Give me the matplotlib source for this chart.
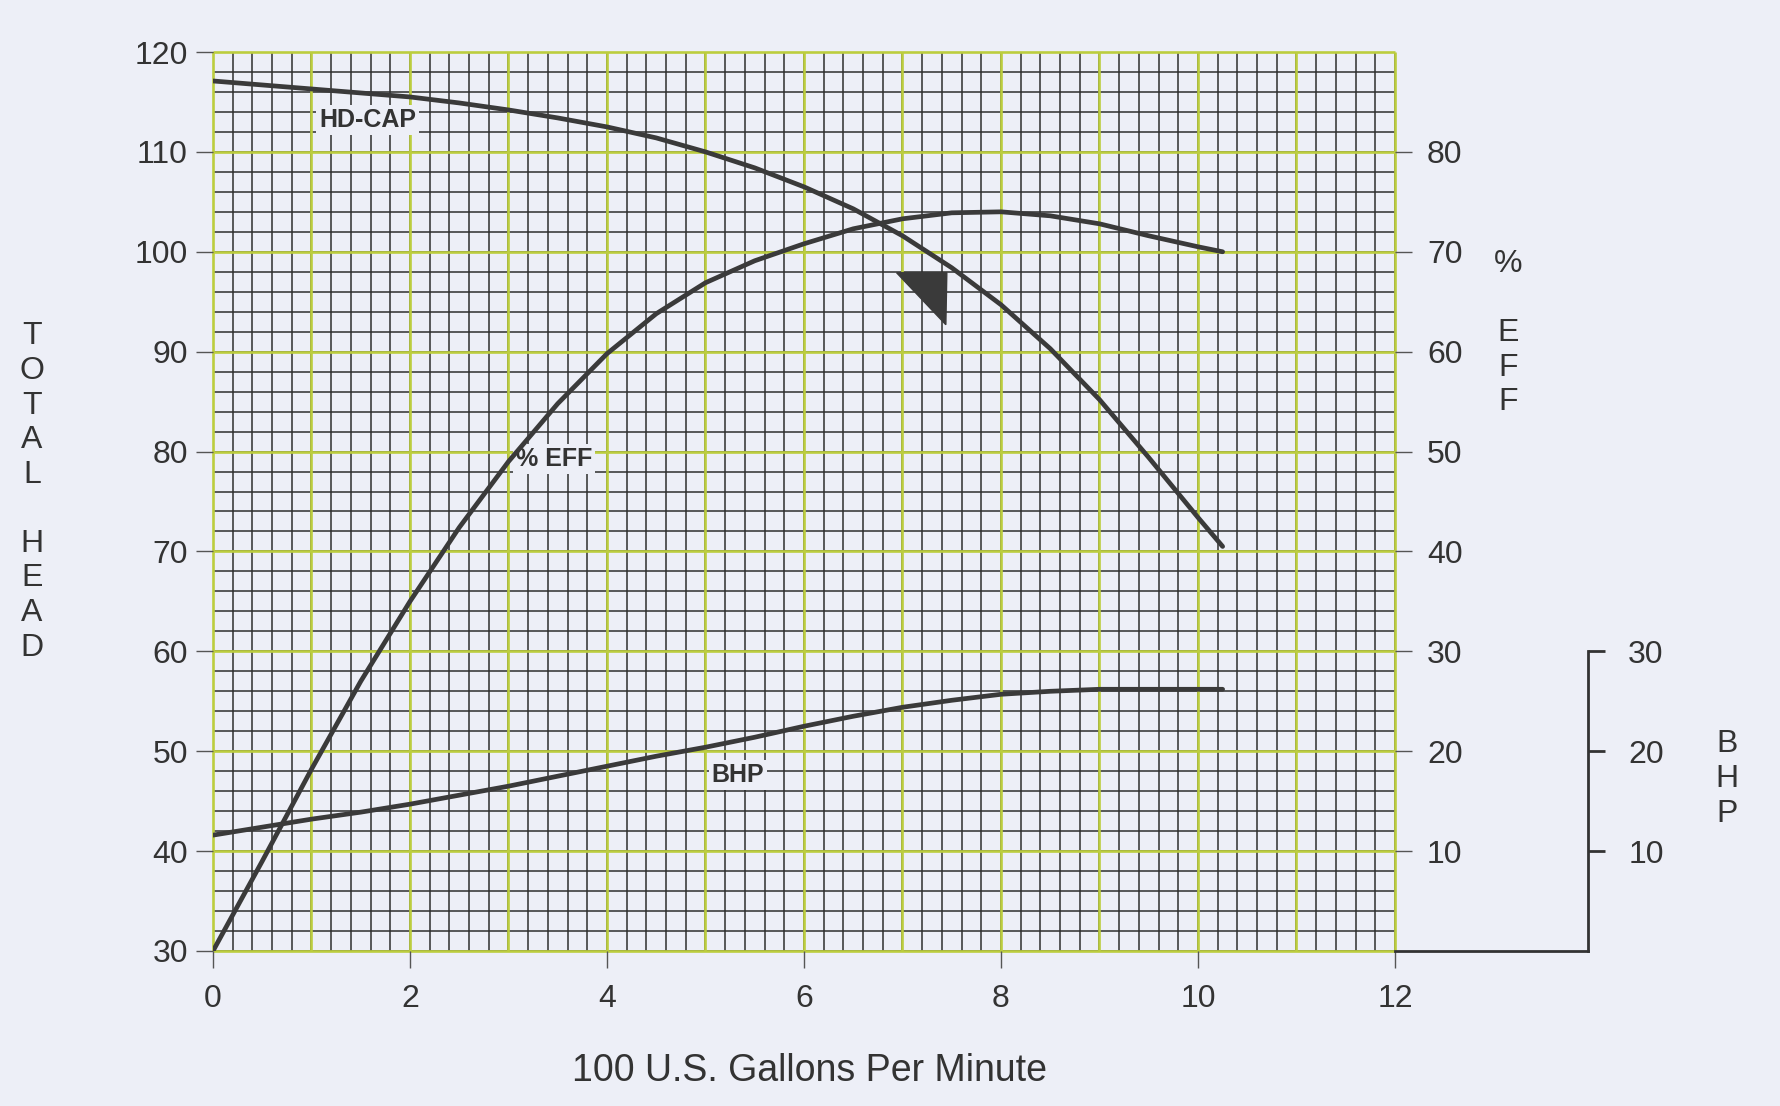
import numpy as np
import matplotlib
matplotlib.use("Agg")
import matplotlib.pyplot as plt

plt.rcParams['font.family'] = ['Liberation Sans', 'DejaVu Sans']

# -------------------------------
# data
# -------------------------------
gpm = [0, 0.5, 1, 1.5, 2, 2.5, 3, 3.5, 4, 4.5, 5, 5.5, 6, 6.5, 7, 7.5, 8, 8.5, 9, 9.5, 10, 10.25]

# total head (left scale)
head = [117.1, 116.7, 116.3, 115.9, 115.5, 114.9, 114.2, 113.4, 112.5, 111.4, 110.0,
        108.4, 106.5, 104.3, 101.6, 98.4, 94.7, 90.3, 85.2, 79.4, 73.4, 70.5]

# efficiency in % (right scale)
eff = [0.0, 9.0, 18.2, 27.0, 35.0, 42.4, 49.0, 54.8, 59.8, 63.8, 66.9,
       69.1, 70.8, 72.3, 73.3, 73.9, 74.0, 73.6, 72.8, 71.6, 70.5, 70.0]

# brake horse power (bracket scale, same spacing as efficiency)
bhp = [11.6, 12.4, 13.2, 13.9, 14.7, 15.6, 16.5, 17.5, 18.5, 19.5, 20.4,
       21.4, 22.5, 23.5, 24.4, 25.1, 25.7, 26.0, 26.2, 26.2, 26.2, 26.2]

# filled triangle marker drawn next to the head curve
tri_gpm = [6.94, 7.45, 7.44]
tri_head = [97.9, 97.9, 92.7]

head_ticks = list(range(30, 121, 10))
gpm_ticks = list(range(0, 13, 2))
eff_ticks = list(range(10, 81, 10))
bhp_ticks = [10, 20, 30]

# -------------------------------
# styling
# -------------------------------
bg = '#edeff7'
ink = '#333333'
curve_c = '#3a3a3a'
minor_c = '#2e2e2e'
green = '#bccd3e'
tick_fs = 23

fig = plt.figure(figsize=(17.81, 11.06), dpi=100, facecolor=bg)

L, B, W, H = 213 / 1781, 155 / 1106, 1182 / 1781, 899 / 1106
ax = fig.add_axes([L, B, W, H])
ax.set_facecolor(bg)
ax.set_xlim(0, 12)
ax.set_ylim(30, 120)

# graph paper: fine black grid, green every 1 x unit / 10 head units
ax.vlines(np.arange(0, 12.001, 0.2), 30, 120, color=minor_c, lw=1.1, zorder=1)
ax.hlines(np.arange(30, 120.001, 2), 0, 12, color=minor_c, lw=1.1, zorder=1)
ax.vlines(np.arange(0, 13, 1), 30, 120, color=green, lw=1.9, zorder=1.2, clip_on=False)
ax.hlines(np.arange(30, 121, 10), 0, 12, color=green, lw=1.9, zorder=1.2, clip_on=False)

for s in ax.spines.values():
    s.set_visible(False)

ax.set_xticks(gpm_ticks)
ax.set_yticks(head_ticks)
ax.tick_params(axis='both', length=12, width=1, color='#555555',
               labelsize=tick_fs, labelcolor=ink)
ax.tick_params(axis='x', pad=12)
ax.tick_params(axis='y', pad=6)

# head curve + triangle
ax.plot(gpm, head, color=curve_c, lw=3.4, zorder=3, solid_capstyle='round')
ax.fill(tri_gpm, tri_head, color=curve_c, zorder=3)

lab = dict(fontsize=18, fontweight='bold', color=ink, ha='center', va='center', zorder=2,
           bbox=dict(boxstyle='square,pad=0.12', fc=bg, ec='none'))
ax.text(1.57, 113.2, 'HD-CAP', **lab)
ax.text(3.46, 79.3, '% EFF', **lab)
ax.text(5.33, 47.6, 'BHP', **lab)

# efficiency scale on the right
ax2 = ax.twinx()
ax2.set_ylim(0, 90)
ax2.set_yticks(eff_ticks)
for s in ax2.spines.values():
    s.set_visible(False)
ax2.tick_params(axis='y', length=12, width=1, color='#555555',
                labelsize=tick_fs, labelcolor=ink, pad=11)
ax2.plot(gpm, eff, color=curve_c, lw=3.4, zorder=3, solid_capstyle='round')
ax2.plot(gpm, bhp, color=curve_c, lw=3.4, zorder=3, solid_capstyle='round')

# BHP bracket scale
ax3 = fig.add_axes([L + W, B, 193 / 1781, H / 3])
ax3.patch.set_visible(False)
ax3.set_xlim(0, 1)
ax3.set_ylim(0, 30)
ax3.set_xticks([])
ax3.yaxis.tick_right()
ax3.set_yticks(bhp_ticks)
for side in ['left', 'top']:
    ax3.spines[side].set_visible(False)
for side in ['right', 'bottom']:
    ax3.spines[side].set_color(ink)
    ax3.spines[side].set_linewidth(2)
ax3.tick_params(axis='y', length=12, width=2, color=ink,
                labelsize=tick_fs, labelcolor=ink, pad=17)

# axis titles
fig.text(810 / 1781, 1 - 1071 / 1106, '100 U.S. Gallons Per Minute',
         ha='center', va='center', fontsize=27, color=ink)
fig.text(32 / 1781, 1 - 492 / 1106, 'T\nO\nT\nA\nL\n\nH\nE\nA\nD',
         ha='center', va='center', fontsize=tick_fs, color=ink, linespacing=1.2)
fig.text(1508 / 1781, 1 - 333 / 1106, '%\n\nE\nF\nF',
         ha='center', va='center', fontsize=tick_fs, color=ink, linespacing=1.2)
fig.text(1727 / 1781, 1 - 779 / 1106, 'B\nH\nP',
         ha='center', va='center', fontsize=tick_fs, color=ink, linespacing=1.2)

fig.savefig('out.png', dpi=100, facecolor=bg)
